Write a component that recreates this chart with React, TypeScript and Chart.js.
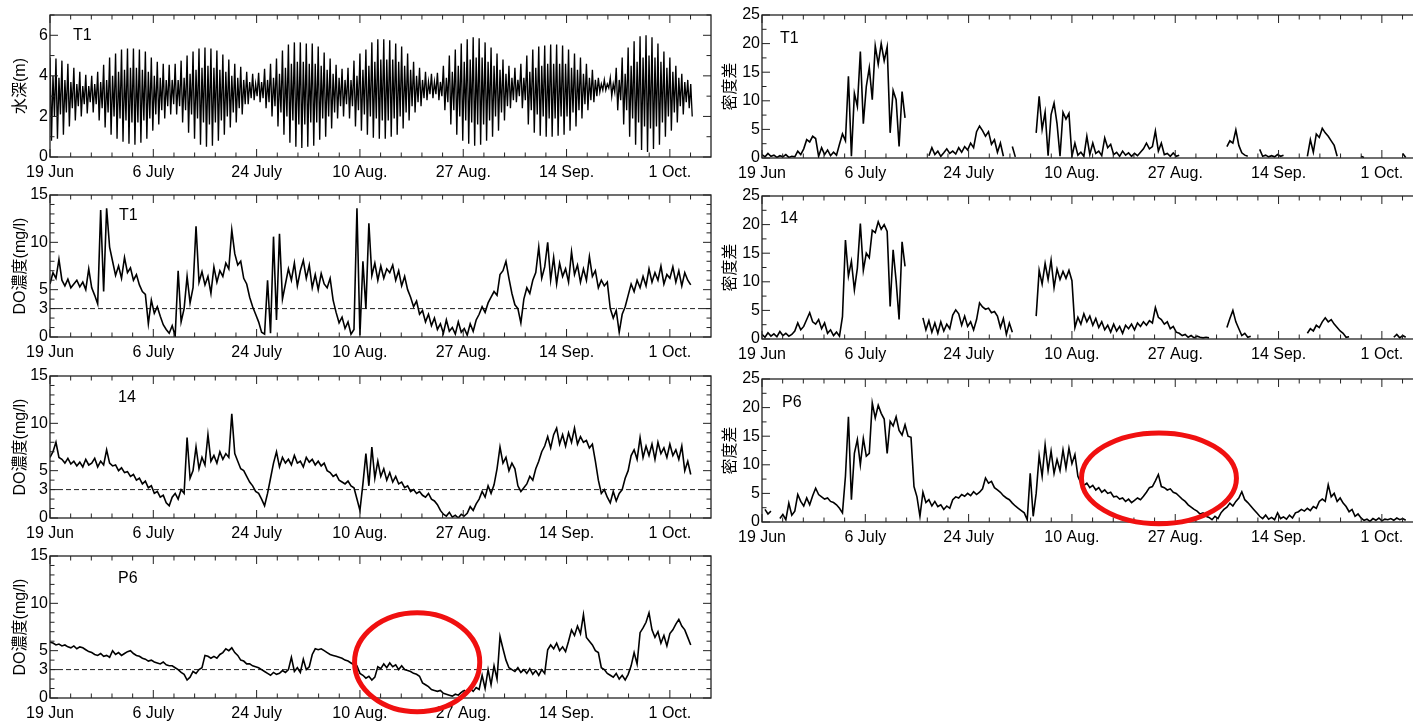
import React, { useEffect, useRef } from 'react';
import { Chart, registerables } from 'chart.js';

Chart.register(...registerables);

// ---------- axes ----------
const xTickDays = [0, 104 / 6, 208 / 6, 52, 416 / 6, 520 / 6, 104];
const xTickLabels = ['19 Jun', '6 July', '24 July', '10 Aug.', '27 Aug.', '14 Sep.', '1 Oct.'];
const xMax = 110.9;
const xMinorStep = 104 / 30;

const depthTicks = [0, 2, 4, 6];
const doTicks = [0, 3, 5, 10, 15];
const densTicks = [0, 5, 10, 15, 20, 25];
const doThreshold = 3;

// ---------- data (days since 19 Jun) ----------
const depthStep = 0.25; // four readings per day: higher high, lower low, lower high, higher low
const depth = [
  4.9, 0.8, 4.0, 2.0, 4.85, 0.9, 3.9, 2.1, 4.75, 1.1, 3.8, 2.2, 4.6, 1.5, 3.7, 2.4,
  4.4, 1.8, 3.6, 2.5, 4.2, 2.0, 3.5, 2.6, 4.05, 2.15, 3.5, 2.7, 4.0, 2.2, 3.6, 2.6,
  4.2, 1.8, 3.7, 2.4, 4.55, 1.45, 3.8, 2.2, 4.9, 1.1, 4.0, 2.0, 5.1, 0.9, 4.2, 1.9,
  5.3, 0.75, 4.3, 1.8, 5.35, 0.65, 4.4, 1.7, 5.35, 0.6, 4.4, 1.7, 5.3, 0.7, 4.3, 1.8,
  5.2, 0.9, 4.2, 1.9, 4.9, 1.3, 4.0, 2.1, 4.7, 1.6, 3.9, 2.3, 4.6, 1.9, 3.8, 2.5,
  4.55, 2.1, 3.8, 2.6, 4.6, 2.1, 3.8, 2.5, 4.75, 1.7, 3.9, 2.3, 5.0, 1.2, 4.1, 2.1,
  5.2, 0.9, 4.3, 1.9, 5.35, 0.6, 4.4, 1.7, 5.4, 0.5, 4.5, 1.6, 5.35, 0.55, 4.4, 1.7,
  5.25, 0.8, 4.3, 1.8, 5.05, 1.1, 4.2, 2.0, 4.8, 1.45, 4.0, 2.2, 4.6, 1.7, 3.9, 2.4,
  4.45, 2.1, 3.8, 2.6, 4.2, 2.6, 3.7, 2.9, 4.1, 2.8, 3.6, 3.0, 4.15, 2.7, 3.7, 2.9,
  4.35, 2.4, 3.8, 2.7, 4.6, 2.0, 3.9, 2.5, 4.85, 1.5, 4.1, 2.2, 5.25, 1.1, 4.4, 2.0,
  5.55, 0.7, 4.6, 1.8, 5.65, 0.5, 4.7, 1.6, 5.65, 0.45, 4.7, 1.6, 5.6, 0.5, 4.6, 1.7,
  5.6, 0.55, 4.6, 1.7, 5.45, 0.85, 4.5, 1.9, 5.15, 1.0, 4.3, 2.0, 4.85, 1.4, 4.1, 2.2,
  4.55, 1.9, 3.9, 2.5, 4.35, 2.0, 3.8, 2.6, 4.4, 1.9, 3.8, 2.5, 4.75, 1.5, 4.0, 2.3,
  5.1, 1.3, 4.3, 2.1, 5.3, 1.1, 4.5, 2.0, 5.65, 0.95, 4.7, 1.9, 5.8, 0.9, 4.8, 1.8,
  5.8, 0.9, 4.8, 1.8, 5.75, 1.0, 4.8, 1.9, 5.6, 1.1, 4.7, 2.0, 5.45, 1.4, 4.5, 2.2,
  5.1, 1.8, 4.3, 2.5, 4.7, 2.2, 4.0, 2.7, 4.4, 2.5, 3.8, 2.9, 4.2, 2.8, 3.7, 3.1,
  4.1, 2.9, 3.7, 3.1, 4.15, 2.8, 3.7, 3.0, 4.5, 2.3, 3.9, 2.7, 5.0, 1.6, 4.2, 2.3,
  5.3, 1.1, 4.5, 2.0, 5.6, 0.8, 4.7, 1.8, 5.8, 0.65, 4.8, 1.7, 5.9, 0.55, 4.9, 1.6,
  5.85, 0.6, 4.9, 1.6, 5.65, 0.8, 4.7, 1.8, 5.4, 1.0, 4.5, 2.0, 5.1, 1.3, 4.3, 2.2,
  4.8, 1.8, 4.1, 2.5, 4.5, 2.4, 3.9, 2.8, 4.4, 2.7, 3.8, 3.0, 4.6, 2.4, 3.9, 2.8,
  5.0, 1.6, 4.2, 2.3, 5.3, 1.2, 4.4, 2.1, 5.45, 1.05, 4.5, 2.0, 5.5, 1.0, 4.6, 1.9,
  5.55, 1.0, 4.6, 1.9, 5.55, 1.05, 4.6, 2.0, 5.5, 1.1, 4.6, 2.0, 5.3, 1.3, 4.4, 2.2,
  5.1, 1.5, 4.3, 2.3, 4.9, 1.9, 4.1, 2.6, 4.6, 2.3, 3.9, 2.8, 4.3, 2.7, 3.8, 3.0,
  3.9, 3.2, 3.6, 3.3, 3.8, 3.3, 3.6, 3.4, 3.9, 3.0, 3.6, 3.2, 4.4, 2.3, 3.8, 2.8,
  4.9, 1.6, 4.1, 2.3, 5.4, 1.0, 4.5, 1.9, 5.7, 0.6, 4.7, 1.7, 5.95, 0.35, 4.9, 1.5,
  6.0, 0.25, 5.0, 1.4, 5.9, 0.4, 4.9, 1.5, 5.6, 0.6, 4.7, 1.7, 5.2, 1.0, 4.4, 2.0,
  4.9, 1.3, 4.2, 2.2, 4.5, 1.7, 3.9, 2.5, 4.1, 2.1, 3.7, 2.7, 3.8, 2.4, 3.6, 2.0,
];

const sampleStep = 0.5; // two readings per day

const doT1 = [
  5.6, 6.8, 6.2, 8.2, 6.0, 5.4, 6.1, 5.2, 5.6, 6.0,
  5.3, 5.8, 5.0, 7.2, 5.2, 4.4, 3.5, 13.4, 4.8, 13.6,
  9.5, 8.0, 6.5, 7.5, 6.2, 8.4, 6.8, 7.3, 6.0, 6.6,
  5.5, 4.8, 4.5, 1.4, 3.9, 2.5, 3.2, 2.2, 1.3, 0.8,
  0.4, 1.2, 0.1, 7.0, 1.6, 3.0, 6.4, 3.6, 5.2, 11.7,
  5.8, 6.9, 5.5, 6.4, 4.6, 7.4, 5.8, 7.0, 6.4, 7.8,
  7.2, 11.3, 8.8, 7.6, 8.0, 6.2, 5.6, 4.2, 3.2, 2.4,
  1.6, 0.5, 0.3, 6.0, 0.4, 10.6, 1.8, 10.9, 4.0, 5.6,
  7.2, 6.0, 7.8, 5.4, 7.0, 8.1, 6.2, 7.6, 5.2, 6.6,
  5.0, 6.7, 5.6, 5.2, 6.2, 3.9, 2.6, 1.5, 2.1, 0.9,
  1.6, 0.3, 0.8, 13.6, 0.2, 8.0, 3.0, 12.0, 6.5, 7.8,
  6.0, 7.5, 6.2, 7.2, 6.8, 7.6, 6.0, 7.0, 5.4, 6.4,
  5.0, 4.2, 3.2, 3.8, 2.4, 2.8, 1.6, 2.4, 1.2, 2.0,
  0.8, 1.4, 0.4, 1.8, 0.6, 1.0, 0.3, 1.6, 0.5, 0.9,
  0.2, 1.4, 0.6, 1.8, 2.4, 3.2, 2.6, 3.6, 4.2, 4.8,
  4.4, 6.6, 7.0, 8.0, 6.2, 4.6, 3.4, 3.0, 1.5, 4.0,
  5.2, 4.6, 6.0, 6.8, 9.5, 6.2, 7.4, 10.0, 6.0, 8.4,
  5.6, 7.8, 6.4, 7.2, 5.8, 9.0, 6.6, 7.6, 5.8, 7.2,
  6.0, 8.5, 6.4, 7.0, 5.2, 6.0, 5.4, 5.8, 3.0, 2.0,
  2.8, 0.5, 2.4, 3.2, 4.4, 5.6, 4.8, 6.0, 5.2, 6.4,
  5.4, 7.2, 5.8, 6.8, 6.0, 7.5, 5.6, 6.6, 6.2, 7.4,
  5.8, 7.0, 5.4, 6.8, 6.0, 5.5,
];

const do14 = [
  6.4, 7.0, 8.0, 6.4, 6.2, 5.8, 6.3, 5.7, 6.0, 5.5,
  5.9, 5.4, 6.2, 5.6, 5.8, 6.3, 5.4, 6.0, 5.6, 7.2,
  5.8, 5.5, 5.6, 5.0, 5.3, 4.8, 4.9, 4.4, 4.6, 4.0,
  4.2, 3.6, 3.9, 3.2, 3.4, 2.6, 2.8, 2.2, 2.4, 1.6,
  1.3, 2.2, 2.6, 2.0, 3.0, 2.6, 8.5, 4.2, 5.0, 7.5,
  5.2, 6.4, 5.6, 8.8, 6.0, 6.6, 5.8, 7.0, 6.2, 6.8,
  6.4, 11.0, 6.8, 6.0, 5.2, 5.0, 4.4, 3.8, 3.4, 2.8,
  2.6, 2.0, 1.3, 2.6, 4.2, 5.8, 7.0, 5.4, 6.4, 5.8,
  6.2, 5.6, 6.6, 5.8, 6.0, 5.4, 6.4, 5.9, 6.2, 5.6,
  6.0, 5.5, 5.8, 5.0, 4.8, 4.4, 4.6, 4.0, 3.8, 3.6,
  3.9, 3.4, 3.2, 2.0, 0.8, 3.6, 6.8, 3.4, 7.5, 4.2,
  6.0, 4.4, 5.2, 4.0, 4.8, 3.8, 4.4, 3.6, 3.8, 3.2,
  3.4, 2.8, 3.0, 2.6, 2.8, 2.4, 2.2, 2.6, 2.0, 1.8,
  1.4, 0.8, 0.4, 0.2, 0.6, 0.1, 0.3, 0.0, 0.4, 0.2,
  0.5, 1.2, 0.8, 1.5, 2.0, 2.8, 2.2, 3.4, 2.6, 3.5,
  5.2, 7.5, 5.8, 6.4, 5.0, 5.8, 5.2, 3.4, 2.8, 3.2,
  3.6, 4.4, 4.0, 5.2, 6.0, 7.0, 7.6, 8.6, 7.4, 8.8,
  9.5, 7.8, 8.8, 7.6, 9.0, 8.0, 9.5, 7.8, 8.6, 8.0,
  8.2, 7.4, 7.8, 6.0, 4.0, 2.6, 3.0, 2.2, 1.6, 2.8,
  1.8, 2.6, 3.0, 4.2, 5.0, 6.6, 7.2, 6.2, 8.5, 6.4,
  7.6, 6.6, 7.8, 6.2, 8.0, 6.8, 7.4, 6.4, 7.8, 6.6,
  7.2, 6.2, 7.6, 5.0, 6.0, 4.6,
];

const doP6 = [
  5.9, 5.8, 5.6, 5.7, 5.5, 5.6, 5.4, 5.3, 5.5, 5.2,
  5.4, 5.3, 5.1, 4.9, 4.8, 4.6, 4.5, 4.7, 4.4, 4.5,
  4.3, 5.0, 4.6, 4.8, 4.5, 4.7, 4.9, 5.0, 4.7, 4.5,
  4.4, 4.2, 4.1, 3.9, 4.0, 3.8, 3.7, 3.6, 3.8, 3.5,
  3.4, 3.4, 3.2, 3.0, 2.7, 2.5, 1.9, 2.2, 2.8, 2.6,
  3.0, 3.2, 4.5, 4.4, 4.2, 4.4, 4.2, 4.6, 4.8, 5.2,
  5.0, 5.3, 4.8, 4.5, 4.0, 3.9, 3.6, 3.6, 3.4, 3.3,
  3.2, 3.0, 2.8, 2.6, 2.4, 2.7, 2.5, 2.6, 2.9, 2.7,
  3.0, 4.3, 2.8, 3.2, 2.7, 4.1, 3.0, 3.3, 4.6, 5.2,
  5.1, 5.2, 5.0, 4.8, 4.6, 4.5, 4.4, 4.3, 4.2, 4.0,
  3.9, 3.7, 3.5, 3.4, 2.6, 2.4, 2.1, 2.3, 1.9, 2.2,
  3.3, 3.1, 3.6, 3.2, 3.7, 3.3, 3.5, 3.0, 3.4, 3.0,
  2.9, 2.8, 2.6, 2.5, 2.3, 1.6, 1.4, 1.2, 0.9, 0.8,
  0.7, 0.8, 0.5, 0.4, 0.3, 0.2, 0.4, 0.3, 0.6, 0.8,
  0.6, 1.0, 0.7, 1.1, 0.9, 2.4, 1.0, 3.0, 1.4, 3.4,
  2.0, 6.5, 5.2, 4.0, 3.2, 3.0, 2.8, 3.2, 2.7, 3.0,
  2.6, 3.1, 2.5, 2.9, 2.4, 3.0, 2.6, 5.1, 5.6, 5.2,
  5.8, 5.0, 5.4, 4.9, 6.0, 7.2, 6.6, 7.6, 6.8, 8.8,
  6.4, 6.0, 5.6, 5.0, 4.8, 3.2, 3.0, 2.6, 2.4, 2.2,
  2.6, 2.0, 2.4, 1.9, 2.5, 3.4, 4.8, 3.6, 6.9, 7.4,
  8.0, 9.0, 7.2, 6.4, 7.0, 5.8, 6.6, 5.5, 6.8, 7.2,
  7.8, 8.3, 7.6, 7.2, 6.4, 5.6,
];

const densT1 = [
  0.6, 0.2, 0.8, 0.3, 0.5, 0.1, 0.4, 0.2, 0.6, 0.1,
  0.3, 0.2, 1.2, 0.6, 1.6, 3.2, 2.8, 3.8, 3.4, 0.3,
  1.8, 0.6, 1.4, 0.4, 1.0, 0.5, 2.4, 4.2, 3.0, 14.3,
  0.3, 11.3, 9.0, 18.6, 6.0, 12.5, 15.8, 10.2, 19.6, 16.4,
  20.0, 17.0, 19.4, 4.4, 11.8, 10.2, 2.0, 11.6, 7.0, null,
  null, null, null, null, null, null, 0.4, 1.8, 0.6, 1.2,
  0.3, 0.9, 1.6, 0.8, 1.2, 0.7, 1.8, 1.0, 2.0, 1.4,
  2.6, 1.8, 4.6, 5.6, 4.8, 3.8, 4.6, 2.4, 3.2, 1.0,
  2.6, 0.3, null, null, 2.0, 0.2, null, null, null, null,
  null, null, 4.4, 10.8, 5.0, 8.0, 0.4, 7.6, 9.6, 6.0,
  0.3, 8.0, 6.8, 7.8, 0.3, 2.6, 0.5, 1.0, 0.3, 3.8,
  0.6, 2.6, 0.8, 1.2, 0.4, 3.5, 1.8, 2.4, 0.6, 1.0,
  0.3, 1.2, 0.5, 0.9, 0.3, 0.8, 0.4, 1.0, 1.6, 2.6,
  1.6, 2.0, 4.7, 1.2, 2.6, 0.6, 0.8, 0.3, 0.9, 0.3,
  0.5, null, null, null, null, null, null, null, null, null,
  null, null, null, null, null, null, 2.0, 3.0, 2.6, 4.9,
  2.2, 0.9, 0.5, 0.3, null, null, null, 1.5, 0.3, 0.5,
  0.2, 0.4, 0.2, 0.6, 0.3, 0.5, null, null, null, null,
  null, null, null, 0.3, 3.2, 1.0, 4.2, 3.6, 5.2, 4.4,
  3.8, 3.0, 2.2, 0.3, null, null, null, null, null, null,
  null, 0.3, 0.1, null, null, null, null, null, null, null,
  null, null, null, null, null, 0.8, 0.1,
];

const dens14 = [
  0.8, 0.3, 1.1, 0.5, 0.9, 0.4, 1.3, 0.6, 1.0, 0.5,
  0.8, 1.4, 2.8, 1.6, 2.2, 3.4, 4.6, 3.0, 2.6, 3.4,
  1.8, 2.8, 1.0, 1.6, 0.6, 1.2, 0.5, 3.9, 17.3, 11.0,
  13.6, 8.6, 12.4, 20.2, 12.0, 15.0, 14.2, 19.0, 18.6, 20.5,
  19.2, 20.0, 18.8, 5.7, 15.6, 10.2, 3.4, 17.0, 12.7, null,
  null, null, null, null, 3.7, 1.6, 3.2, 1.2, 2.8, 1.0,
  3.0, 1.4, 2.6, 1.8, 4.2, 5.1, 4.4, 2.4, 4.0, 2.2,
  3.0, 1.6, 3.4, 6.3, 5.6, 5.2, 5.4, 4.6, 4.8, 4.0,
  2.0, 3.6, 0.8, 2.8, 1.2, null, null, null, null, null,
  null, null, 4.0, 12.0, 9.6, 13.2, 10.4, 13.8, 9.0, 12.2,
  10.4, 11.8, 10.6, 12.0, 10.2, 2.0, 3.8, 2.6, 4.4, 3.0,
  4.0, 2.4, 3.6, 2.0, 3.0, 1.6, 2.4, 1.2, 2.6, 1.4,
  2.2, 1.0, 2.4, 1.8, 2.6, 1.6, 2.8, 2.2, 3.0, 2.4,
  3.2, 2.8, 5.5, 3.8, 3.4, 2.6, 3.0, 1.8, 2.2, 1.2,
  1.0, 0.6, 0.8, 0.3, 0.6, 0.2, 0.5, 0.3, 0.2, 0.3,
  0.2, null, null, null, null, null, 2.0, 3.6, 5.0, 3.0,
  1.8, 0.6, 1.0, 0.3, 0.5, null, null, null, null, null,
  null, null, null, null, null, null, null, null, null, null,
  null, null, null, 1.0, 1.8, 1.4, 2.4, 2.0, 3.0, 3.7,
  3.0, 3.4, 2.6, 2.0, 1.4, 1.0, 0.3, 0.4, null, null,
  null, null, null, null, null, null, null, null, null, null,
  null, null, 0.3, 0.8, 0.2, 0.6, 0.3,
];

const densP6 = [
  null, 2.2, 1.4, 1.9, null, null, 0.6, 1.3, 0.4, 3.3,
  1.2, 1.9, 4.8, 3.6, 2.8, 4.2, 3.0, 4.6, 5.9, 4.8,
  4.4, 4.0, 4.2, 3.6, 3.4, 3.0, 2.4, 1.6, 8.0, 18.4,
  3.9, 12.0, 14.4, 10.0, 14.6, 11.5, 12.0, 20.8, 18.2, 20.4,
  19.0, 18.0, 12.0, 17.6, 16.8, 18.4, 16.0, 15.2, 17.0, 15.0,
  14.8, 6.2, 4.4, 1.0, 5.2, 3.4, 3.9, 2.8, 3.6, 2.7,
  3.0, 2.2, 2.8, 2.4, 3.9, 4.4, 4.2, 4.8, 4.5, 5.0,
  4.6, 5.3, 4.8, 5.2, 5.8, 7.7, 6.8, 7.1, 6.0, 5.6,
  5.2, 4.6, 4.2, 3.9, 3.3, 2.8, 2.4, 2.0, 1.6, 0.4,
  8.5, 1.0, 5.0, 11.6, 8.0, 13.5, 9.0, 12.4, 8.5, 10.9,
  9.0, 12.6, 9.4, 12.9, 10.2, 11.8, 8.0, 6.8, 6.4, 6.8,
  6.0, 6.4, 5.6, 6.0, 5.2, 5.6, 5.0, 5.2, 4.4, 4.5,
  4.0, 4.2, 3.6, 4.0, 3.4, 3.8, 4.2, 3.9, 4.5, 5.2,
  6.0, 6.2, 7.2, 8.3, 6.2, 6.0, 5.6, 5.8, 5.2, 5.0,
  4.5, 4.0, 3.6, 3.0, 2.6, 2.2, 1.9, 1.4, 1.6, 1.0,
  0.8, 0.4, 1.0, 0.6, 1.6, 2.2, 2.6, 3.3, 2.8, 3.6,
  4.2, 5.3, 3.9, 3.4, 2.8, 2.2, 1.6, 1.0, 0.6, 1.2,
  0.5, 0.8, 0.4, 1.6, 0.6, 0.9, 0.5, 1.2, 0.7, 1.6,
  1.8, 2.2, 1.9, 2.4, 2.0, 2.7, 2.4, 3.6, 4.0, 3.6,
  6.5, 4.4, 5.0, 3.6, 4.2, 3.3, 2.7, 1.8, 2.2, 1.0,
  1.4, 0.7, 0.3, 0.5, 0.1, 0.6, 0.3, 0.7, 0.2, 0.5,
  0.4, 0.6, 0.3, 0.7, 0.4, 0.6, 0.3,
];

// annotation ellipses (centre in days / values, radii in days / values)
const ellipseDO = { day: 61.6, value: 3.78, rDay: 10.5, rValue: 5.23 };
const ellipseDens = { day: 66.6, value: 7.64, rDay: 13.0, rValue: 7.94 };

// ---------- layout ----------
const PAD_TOP = 12;
const X_AXIS_H = 28;
const Y_AXIS_W = 50;
const CANVAS_W = 716;
const FONT = '"Liberation Sans", Arial, Helvetica, sans-serif';
const TITLE_FONT = '"Liberation Sans", "Noto Sans CJK JP", sans-serif';

type Ell = { day: number; value: number; rDay: number; rValue: number };
type Panel = {
  id: string;
  left: number;
  plotTop: number;
  plotH: number;
  values: (number | null)[];
  step: number;
  yMax: number;
  yTicks: number[];
  yMinor: number;
  title: string;
  titlePad: number;
  label: string;
  labelDx: number;
  labelDy: number;
  lineWidth: number;
  threshold?: number;
  ellipse?: Ell;
};

const panels: Panel[] = [
  { id: 'depthT1', left: 0, plotTop: 15, plotH: 142, values: depth, step: depthStep, yMax: 7, yTicks: depthTicks, yMinor: 1, title: '水深(m)', titlePad: 11, label: 'T1', labelDx: 23, labelDy: 21, lineWidth: 1.35 },
  { id: 'doT1', left: 0, plotTop: 195, plotH: 142, values: doT1, step: sampleStep, yMax: 15, yTicks: doTicks, yMinor: 1, title: 'DO濃度(mg/l)', titlePad: 10.5, label: 'T1', labelDx: 69, labelDy: 21, lineWidth: 1.6, threshold: doThreshold },
  { id: 'do14', left: 0, plotTop: 376, plotH: 142, values: do14, step: sampleStep, yMax: 15, yTicks: doTicks, yMinor: 1, title: 'DO濃度(mg/l)', titlePad: 10.5, label: '14', labelDx: 68, labelDy: 22, lineWidth: 1.6, threshold: doThreshold },
  { id: 'doP6', left: 0, plotTop: 556, plotH: 142, values: doP6, step: sampleStep, yMax: 15, yTicks: doTicks, yMinor: 1, title: 'DO濃度(mg/l)', titlePad: 10.5, label: 'P6', labelDx: 68, labelDy: 23, lineWidth: 1.6, threshold: doThreshold, ellipse: ellipseDO },
  { id: 'densT1', left: 712, plotTop: 15, plotH: 143, values: densT1, step: sampleStep, yMax: 25, yTicks: densTicks, yMinor: 2.5, title: '密度差', titlePad: 8.5, label: 'T1', labelDx: 18, labelDy: 24, lineWidth: 1.6 },
  { id: 'dens14', left: 712, plotTop: 196, plotH: 143, values: dens14, step: sampleStep, yMax: 25, yTicks: densTicks, yMinor: 2.5, title: '密度差', titlePad: 8.5, label: '14', labelDx: 18, labelDy: 23, lineWidth: 1.6 },
  { id: 'densP6', left: 712, plotTop: 379, plotH: 143, values: densP6, step: sampleStep, yMax: 25, yTicks: densTicks, yMinor: 2.5, title: '密度差', titlePad: 8.5, label: 'P6', labelDx: 20, labelDy: 24, lineWidth: 1.6, ellipse: ellipseDens },
];

const framePlugin = {
  id: 'frameTicks',
  beforeDatasetsDraw(chart: any, _a: any, opts: any) {
    if (opts.threshold == null) return;
    const { ctx, chartArea: a, scales } = chart;
    const y = scales.y.getPixelForValue(opts.threshold);
    ctx.save();
    ctx.setLineDash([5, 3]);
    ctx.strokeStyle = '#222';
    ctx.lineWidth = 1;
    ctx.beginPath();
    ctx.moveTo(a.left, y);
    ctx.lineTo(a.right, y);
    ctx.stroke();
    ctx.restore();
  },
  afterDraw(chart: any, _a: any, opts: any) {
    const { ctx, chartArea: a, scales } = chart;
    const xs = scales.x;
    const ys = scales.y;
    ctx.save();
    ctx.strokeStyle = '#222';
    ctx.lineWidth = 1.3;
    ctx.strokeRect(a.left, a.top, a.right - a.left, a.bottom - a.top);
    ctx.lineWidth = 1;
    ctx.beginPath();
    for (let k = 0; k * xMinorStep <= xMax + 1e-6; k++) {
      const px = xs.getPixelForValue(k * xMinorStep);
      const len = k % 5 === 0 ? 8 : 4.5;
      ctx.moveTo(px, a.bottom);
      ctx.lineTo(px, a.bottom - len);
      ctx.moveTo(px, a.top);
      ctx.lineTo(px, a.top + len);
    }
    for (let k = 0; k * opts.yMinor <= opts.yMax + 1e-6; k++) {
      const v = k * opts.yMinor;
      const py = ys.getPixelForValue(v);
      const major = opts.yTicks.some((t: number) => Math.abs(t - v) < 1e-6);
      const len = major ? 8 : 4.5;
      ctx.moveTo(a.left, py);
      ctx.lineTo(a.left + len, py);
      ctx.moveTo(a.right, py);
      ctx.lineTo(a.right - len, py);
    }
    ctx.stroke();
    ctx.fillStyle = '#000';
    ctx.font = '16px ' + FONT;
    ctx.textBaseline = 'middle';
    ctx.textAlign = 'left';
    ctx.fillText(opts.label, a.left + opts.labelDx, a.top + opts.labelDy);
    if (opts.ellipse) {
      const e = opts.ellipse;
      const cx = xs.getPixelForValue(e.day);
      const cy = ys.getPixelForValue(e.value);
      const rx = Math.abs(xs.getPixelForValue(e.day + e.rDay) - cx);
      const ry = Math.abs(ys.getPixelForValue(e.value + e.rValue) - cy);
      ctx.strokeStyle = '#f01010';
      ctx.lineWidth = 5;
      ctx.beginPath();
      ctx.ellipse(cx, cy, rx, ry, 0, 0, Math.PI * 2);
      ctx.stroke();
    }
    ctx.restore();
  },
};

function PanelChart({ p }: { p: Panel }) {
  const ref = useRef<HTMLCanvasElement>(null);
  useEffect(() => {
    if (!ref.current) return;
    const points = p.values.map((v, i) => ({ x: i * p.step, y: v }));
    const chart = new Chart(ref.current, {
      type: 'line',
      data: {
        datasets: [
          {
            data: points as any,
            borderColor: '#000',
            borderWidth: p.lineWidth,
            borderJoinStyle: 'miter',
            pointRadius: 0,
            tension: 0,
            spanGaps: false,
            fill: false,
          },
        ],
      },
      options: {
        animation: false,
        responsive: false,
        devicePixelRatio: 1,
        events: [],
        layout: { padding: { top: PAD_TOP, right: 5, left: 0, bottom: 0 } },
        plugins: {
          legend: { display: false },
          tooltip: { enabled: false },
          frameTicks: {
            threshold: p.threshold,
            yMinor: p.yMinor,
            yMax: p.yMax,
            yTicks: p.yTicks,
            label: p.label,
            labelDx: p.labelDx,
            labelDy: p.labelDy,
            ellipse: p.ellipse,
          },
        } as any,
        scales: {
          x: {
            type: 'linear',
            min: 0,
            max: xMax,
            grid: { display: false, drawTicks: false },
            border: { display: false },
            afterBuildTicks: (s: any) => {
              s.ticks = xTickDays.map((v) => ({ value: v }));
            },
            afterFit: (s: any) => {
              s.height = X_AXIS_H;
            },
            ticks: {
              autoSkip: false,
              maxRotation: 0,
              padding: 6,
              color: '#000',
              font: { size: 16, family: FONT },
              callback: (_v: any, i: number) => xTickLabels[i],
            },
          },
          y: {
            type: 'linear',
            min: 0,
            max: p.yMax,
            grid: { display: false, drawTicks: false },
            border: { display: false },
            afterBuildTicks: (s: any) => {
              s.ticks = p.yTicks.map((v) => ({ value: v }));
            },
            afterFit: (s: any) => {
              s.width = Y_AXIS_W;
            },
            title: {
              display: true,
              text: p.title,
              color: '#000',
              font: { size: 16, family: TITLE_FONT },
              padding: { top: p.titlePad, bottom: 0 },
            },
            ticks: {
              autoSkip: false,
              padding: 2,
              color: '#000',
              font: { size: 16, family: FONT },
              callback: (v: any) => String(v),
            },
          },
        },
      },
      plugins: [framePlugin as any],
    });
    return () => chart.destroy();
  }, [p]);
  const top = Math.round(p.plotTop) - PAD_TOP;
  return (
    <canvas
      ref={ref}
      width={CANVAS_W}
      height={PAD_TOP + p.plotH + X_AXIS_H}
      style={{ position: 'absolute', left: p.left, top, width: CANVAS_W, height: PAD_TOP + p.plotH + X_AXIS_H }}
    />
  );
}

export default function App() {
  return (
    <div
      style={{
        position: 'absolute',
        left: 0,
        top: 0,
        width: 1413,
        height: 723,
        overflow: 'hidden',
        background: '#fff',
      }}
    >
      {panels.map((p) => (
        <PanelChart key={p.id} p={p} />
      ))}
    </div>
  );
}
